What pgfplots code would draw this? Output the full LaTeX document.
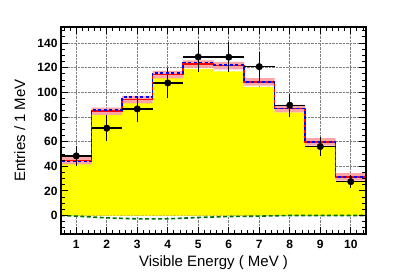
\documentclass[border=0pt]{standalone}
\usepackage{fontspec}
\setmainfont{Liberation Sans}
\usepackage{pgfplots}
\pgfplotsset{compat=1.18}
\definecolor{rootyellow}{RGB}{255,255,0}
\definecolor{rootpink}{RGB}{255,165,165}
\definecolor{rootgreen}{RGB}{0,115,0}
\pgfplotsset{
  layers/mylayers/.define layer set={axis background,axis grid,pre main,main,axis ticks,axis lines,axis tick labels,axis descriptions,axis foreground}{/pgfplots/layers/standard},
}
\begin{document}
\begin{tikzpicture}
\begin{axis}[
  set layers=mylayers,
  at={(0,0)}, anchor=south west,
  width=305bp, height=207bp, scale only axis,
  xmin=0.5, xmax=10.5, ymin=-15, ymax=153,
  xtick={1,...,10}, ytick={0,20,...,140},
  minor xtick={0.6,0.8,...,10.41},
  minor ytick={-15,-10,...,150},
  tick align=inside,
  major tick length=7bp, minor tick length=4bp,
  every tick/.style={black, line width=0.8bp},
  xmajorgrids, ymajorgrids,
  major grid style={densely dotted, gray, line width=0.6bp},
  axis line style={line width=1.6bp},
  /pgf/number format/assume math mode=true,
  ticklabel style={font=\fontsize{12bp}{14bp}\selectfont\bfseries},
  xticklabel style={anchor=base, inner sep=0pt, yshift=-14.3bp},
  yticklabel style={anchor=east, inner sep=0pt, xshift=-3.3bp},
  xlabel={Visible Energy ( MeV )},
  ylabel={Entries / 1 MeV},
  xlabel style={at={(axis description cs:0.5,-0.1594)}, anchor=base, inner sep=0pt, font=\fontsize{15bp}{18bp}\selectfont},
  ylabel style={at={(axis description cs:-0.118,0.5)}, anchor=base, inner sep=0pt, font=\fontsize{15bp}{18bp}\selectfont},
]
% main prediction (yellow)
\addplot[draw=none, fill=rootyellow, const plot] coordinates {
 (0.5,0) (0.5,43.2) (1.5,81.9) (2.5,91.4) (3.5,112.5) (4.5,119.0) (5.5,117.0)
 (6.5,104.4) (7.5,83.8) (8.5,55.7) (9.5,27.8) (10.5,27.8) (10.5,0)};
% uncertainty band (pink)
\addplot[draw=none, fill=rootpink] coordinates {
 (0.5,47.6) (1.5,47.6) (1.5,87.6) (2.5,87.6) (2.5,97.0) (3.5,97.0) (3.5,117.4) (4.5,117.4)
 (4.5,126.0) (5.5,126.0) (5.5,124.7) (6.5,124.7) (6.5,111.5) (7.5,111.5) (7.5,89.8) (8.5,89.8)
 (8.5,62.8) (9.5,62.8) (9.5,34.4) (10.5,34.4)
 (10.5,28.4) (9.5,28.4) (9.5,56.8) (8.5,56.8) (8.5,83.8) (7.5,83.8) (7.5,105.5) (6.5,105.5)
 (6.5,118.7) (5.5,118.7) (5.5,120.0) (4.5,120.0) (4.5,111.4) (3.5,111.4) (3.5,91.0) (2.5,91.0)
 (2.5,81.6) (1.5,81.6) (1.5,41.6) (0.5,41.6)};
% total prediction (red)
\addplot[red, line width=1.6bp, const plot] coordinates {
 (0.5,0) (0.5,44.6) (1.5,84.6) (2.5,94.0) (3.5,114.4) (4.5,123.0) (5.5,121.7)
 (6.5,108.5) (7.5,86.8) (8.5,59.8) (9.5,31.4) (10.5,31.4) (10.5,0)};
% alternative prediction (blue dashed)
\addplot[blue, line width=1.6bp, dash pattern=on 3bp off 2.5bp, const plot] coordinates {
 (0.5,0) (0.5,44.0) (1.5,85.7) (2.5,96.3) (3.5,115.7) (4.5,124.3) (5.5,122.0)
 (6.5,108.5) (7.5,86.8) (8.5,59.8) (9.5,31.4) (10.5,31.4) (10.5,0)};
% background (green dashed)
\addplot[rootgreen, line width=1.6bp, dash pattern=on 4bp off 2.5bp] coordinates {
 (0.5,-16) (0.5,0) (1,-0.5) (2,-1.9) (3,-2.7) (4,-2.7) (5,-1.6) (6,-0.8) (7,-0.5)
 (8,0) (9,0) (10,0) (10.5,0)};
% data
\addplot[black, only marks, mark=*, mark size=3.3bp,
  error bars/.cd, x dir=both, x explicit, y dir=both, y explicit,
  error mark=none, error bar style={line width=1.4bp, black}]
 coordinates {
 (1,48.4) +- (0.5,8.0)
 (2,70.9) +- (0.5,10.8)
 (3,86.5) +- (0.5,10.2)
 (4,107.6) +- (0.5,12.3)
 (5,128.7) +- (0.5,12.6)
 (6,128.5) +- (0.5,12.0)
 (7,120.8) +- (0.5,11.7)
 (8,89.5) +- (0.5,9.5)
 (9,56.0) +- (0.5,7.5)
 (10,27.5) +- (0.5,5.0)
 };
\end{axis}
\pgfresetboundingbox
\path (-61bp,-42bp) rectangle (346bp,234bp);
\end{tikzpicture}
\end{document}
